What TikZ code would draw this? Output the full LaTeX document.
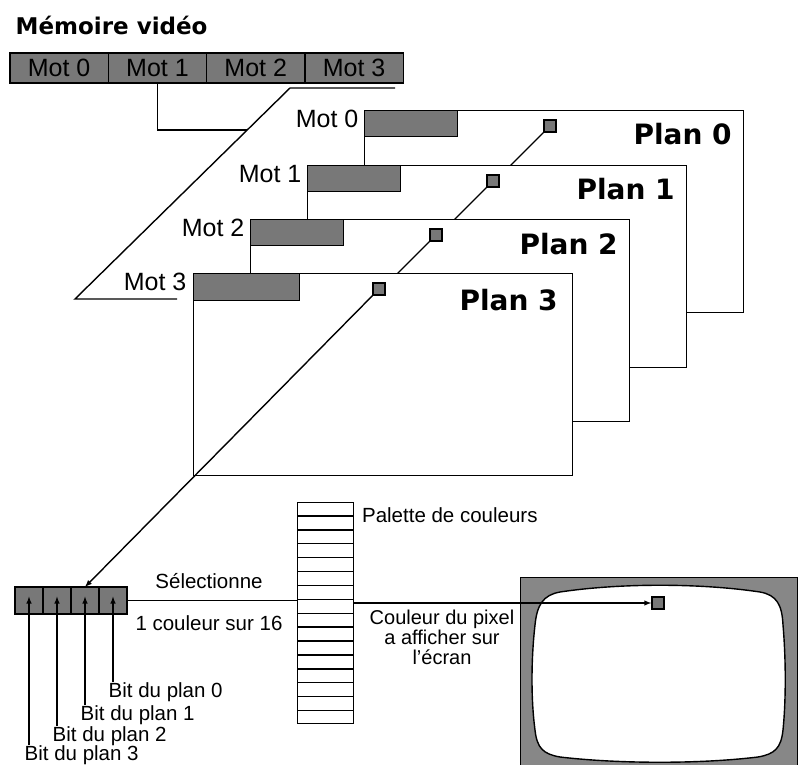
\documentclass[tikz,border=0pt]{standalone}
\usepackage{fontspec}
\setmainfont{Liberation Sans}
\newfontfamily\headfont{DejaVu Sans}
\usetikzlibrary{positioning,calc}

\definecolor{memgray}{gray}{0.47}
\definecolor{bezelgray}{gray}{0.53}

\begin{document}
\begin{tikzpicture}
 [x=1pt, y=-1pt, >=latex, line width=1.4pt,
  plane node/.style={draw, fill=white, rectangle, minimum width=379pt, minimum height=202pt, inner sep=0pt, anchor=north west},
  word node/.style={draw, fill=memgray, rectangle, minimum width=93pt, minimum height=26pt, inner sep=0pt, anchor=north west},
  pixel node/.style={draw, fill=memgray, rectangle, minimum size=12pt, inner sep=0pt},
  mem node/.style={draw, fill=memgray, minimum width=98.3pt, minimum height=30pt, inner sep=0pt, outer sep=0pt, font=\fontsize{25}{28}\selectfont},
  bit node/.style={draw, fill=memgray, minimum width=28pt, minimum height=27pt, inner sep=0pt, outer sep=0pt},
  mot label/.style={anchor=east, inner sep=0pt, font=\fontsize{25}{28}\selectfont},
  plan label/.style={anchor=base east, inner sep=0pt, font=\headfont\bfseries\fontsize{28}{32}\selectfont},
  small label/.style={inner sep=0pt, font=\fontsize{20.5}{20}\selectfont}]

\useasboundingbox (0,0) rectangle (800,765);

% video memory
\node[anchor=base west, inner sep=0pt, font=\headfont\bfseries\fontsize{23}{26}\selectfont] (title) at (15,35) {Mémoire vidéo};
\node[mem node, anchor=north west] (m0) at (10,53) {Mot 0};
\node[mem node, right=0pt of m0] (m1) {Mot 1};
\node[mem node, right=0pt of m1] (m2) {Mot 2};
\node[mem node, right=0pt of m2] (m3) {Mot 3};

\coordinate (st1) at (395,88);
\coordinate (st2) at (290,88);
\coordinate (st3) at (75,299);
\coordinate (st4) at (177,299);
\coordinate (stm) at ($(st2)!0.2!(st3)$);
\draw (st1) -- (st2) -- (st3) -- (st4);
\draw (m1) |- (stm);

% plans
\node[plane node] (p0) at (364,110) {};
\node[word node] (w0) at (p0.north west) {};
\node[mot label] (mot0) at ($(p0.north west)+(-5,9)$) {Mot 0};
\node[plan label] (pl0) at ($(p0.north east)+(-12,34)$) {Plan 0};
\node[pixel node] (px0) at ($(p0.north west)+(186,16)$) {};
\draw (px0) -- +(-60,60);

\node[plane node] (p1) at (307,165) {};
\node[word node] (w1) at (p1.north west) {};
\node[mot label] (mot1) at ($(p1.north west)+(-5,9)$) {Mot 1};
\node[plan label] (pl1) at ($(p1.north east)+(-12,34)$) {Plan 1};
\node[pixel node] (px1) at ($(p1.north west)+(186,16)$) {};
\draw (px1) -- +(-60,60);

\node[plane node] (p2) at (250,219) {};
\node[word node] (w2) at (p2.north west) {};
\node[mot label] (mot2) at ($(p2.north west)+(-5,9)$) {Mot 2};
\node[plan label] (pl2) at ($(p2.north east)+(-12,35)$) {Plan 2};
\node[pixel node] (px2) at ($(p2.north west)+(186,16)$) {};
\draw (px2) -- +(-60,60);

\node[plane node] (p3) at (193,273) {};
\node[word node, minimum width=106pt, minimum height=27pt] (w3) at (p3.north west) {};
\node[mot label] (mot3) at ($(p3.north west)+(-6,9)$) {Mot 3};
\node[plan label] (pl3) at ($(p3.north east)+(-15,37)$) {Plan 3};
\node[pixel node] (px3) at ($(p3.north west)+(186,16)$) {};

% register of bits
\node[bit node, anchor=north west] (bit3) at (15,587) {};
\node[bit node, right=0pt of bit3] (bit2) {};
\node[bit node, right=0pt of bit2] (bit1) {};
\node[bit node, right=0pt of bit1] (bit0) {};

\draw[->] (px3) -- (bit1.north);

\node[small label, anchor=north west] (lb0) at (108,682) {Bit du plan 0};
\node[small label, anchor=north west] (lb1) at (80,705) {Bit du plan 1};
\node[small label, anchor=north west] (lb2) at (52,726) {Bit du plan 2};
\node[small label, anchor=north west] (lb3) at (24,745) {Bit du plan 3};
\draw[->] (lb0.north -| bit0) -- ([yshift=4pt]bit0.center);
\draw[->] (lb1.north -| bit1) -- ([yshift=4pt]bit1.center);
\draw[->] (lb2.north -| bit2) -- ([yshift=4pt]bit2.center);
\draw[->] (lb3.north -| bit3) -- ([yshift=4pt]bit3.center);

% palette
\node[draw, minimum width=56pt, minimum height=221pt, inner sep=0pt, anchor=north west] (pal) at (297,502) {};
\foreach \k in {1,...,15}
  \draw ($(pal.north west)!\k/16!(pal.south west)$) -- ($(pal.north east)!\k/16!(pal.south east)$);
\node[small label, anchor=west] (paltxt) at ($(pal.north east)+(7,13)$) {Palette de couleurs};

\draw (bit0) -- (bit0 -| pal.west);
\node[small label] (sel) at (209,581) {Sélectionne};
\node[small label] (coul) at (209,623) {1 couleur sur 16};

% screen
\node[draw, fill=bezelgray, minimum width=277pt, minimum height=192pt, inner sep=0pt, anchor=north west] (scr) at (520,577) {};
\draw[fill=white] (560,592) .. controls (620,583) and (700,583) .. (760,592)
  .. controls (777,595) and (782,605) .. (783,625)
  .. controls (786,660) and (786,700) .. (783,730)
  .. controls (781,748) and (775,754) .. (758,757)
  .. controls (700,764) and (620,764) .. (560,757)
  .. controls (543,754) and (537,748) .. (535,730)
  .. controls (531,700) and (531,660) .. (535,625)
  .. controls (537,605) and (543,595) .. (560,592) -- cycle;
\node[pixel node] (spx) at (658,603) {};
\draw[->] (pal.east |- spx) -- (spx);

\node[small label, align=center, anchor=north, font=\fontsize{20}{20}\selectfont] (expl) at (442,609) {Couleur du pixel\\a afficher sur\\l'écran};

\end{tikzpicture}
\end{document}
